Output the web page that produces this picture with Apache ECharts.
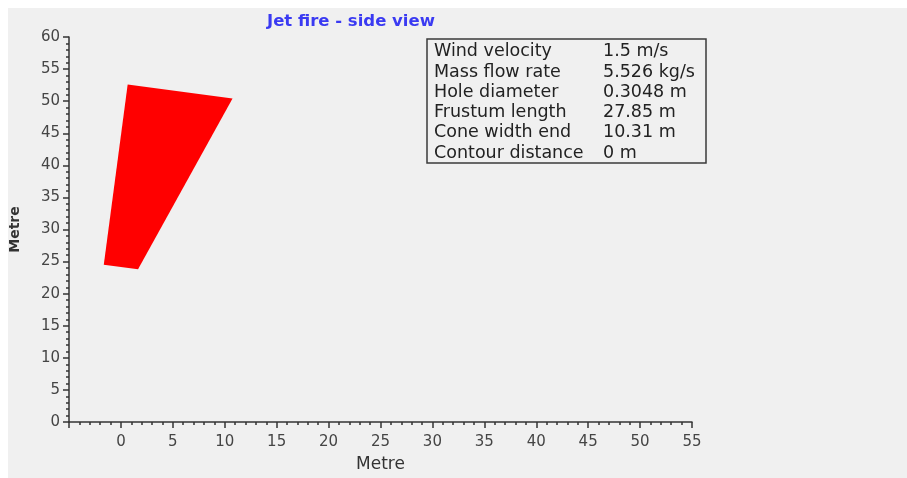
<!DOCTYPE html>
<html>
<head>
<meta charset="utf-8">
<script src="https://cdn.jsdelivr.net/npm/echarts@6/dist/echarts.min.js"></script>
<style>
html,body{margin:0;padding:0;background:#ffffff;}
#chart{width:907px;height:478px;}
</style>
</head>
<body>
<div id="chart"></div>
<script>
// Flame outline (metres): side view polygon vertices
var flameX = [0.65, 10.75, 1.65, -1.65];
var flameY = [52.6, 50.4, 23.8, 24.5];

// Info box
var infoLabels = ['Wind velocity', 'Mass flow rate', 'Hole diameter', 'Frustum length', 'Cone width end', 'Contour distance'];
var infoValues = ['1.5 m/s', '5.526 kg/s', '0.3048 m', '27.85 m', '10.31 m', '0 m'];

// Axes
var xMin = -5, xMax = 55, xStep = 5;
var yMin = 0, yMax = 60, yStep = 5;

var flameData = flameX.map(function (x, i) { return [x, flameY[i]]; });

var chart = echarts.init(document.getElementById('chart'), null, {renderer: 'canvas'});

var FONT = 'DejaVu Sans';
var infoGraphics = [];
infoGraphics.push({
  type: 'rect', shape: {x: 427, y: 39, width: 279, height: 124},
  style: {fill: 'none', stroke: '#3a3a3a', lineWidth: 1.5}, z: 10
});
infoLabels.forEach(function (lab, i) {
  var cy = 51.7 + i * 20.3;
  infoGraphics.push({
    type: 'text', x: 434, y: cy,
    style: {text: lab, fill: '#222', font: '17.5px "' + FONT + '"', textVerticalAlign: 'middle', verticalAlign: 'middle'}, z: 10
  });
  infoGraphics.push({
    type: 'text', x: 603, y: cy,
    style: {text: infoValues[i], fill: '#222', font: '17.5px "' + FONT + '"', textVerticalAlign: 'middle', verticalAlign: 'middle'}, z: 10
  });
});

var option = {
  backgroundColor: '#f0f0f0',
  animation: false,
  title: {
    text: 'Jet fire - side view',
    left: 262, top: 8,
    textStyle: {color: '#3a3af2', fontFamily: FONT, fontSize: 16.5, fontWeight: 'bold'}
  },
  grid: {left: 69, right: 215, top: 37, bottom: 49, containLabel: false},
  xAxis: {
    type: 'value', min: xMin, max: xMax, interval: xStep,
    name: 'Metre', nameLocation: 'middle', nameGap: 34,
    nameTextStyle: {color: '#333', fontFamily: FONT, fontSize: 17},
    axisLine: {show: true, onZero: false, lineStyle: {color: '#333', width: 1.5}},
    axisTick: {show: true, length: 6, lineStyle: {color: '#333', width: 1.5}},
    minorTick: {show: true, splitNumber: 5, length: 3, lineStyle: {color: '#333', width: 1.5}},
    splitLine: {show: false},
    axisLabel: {
      color: '#454545', fontFamily: FONT, fontSize: 15, margin: 13,
      formatter: function (v) { return v === xMin ? '' : String(v); }
    }
  },
  yAxis: {
    type: 'value', min: yMin, max: yMax, interval: yStep,
    name: 'Metre', nameLocation: 'middle', nameGap: 47, nameRotate: 90,
    nameTextStyle: {color: '#333', fontFamily: FONT, fontSize: 14, fontWeight: 'bold'},
    axisLine: {show: true, onZero: false, lineStyle: {color: '#333', width: 1.5}},
    axisTick: {show: true, length: 6, lineStyle: {color: '#333', width: 1.5}},
    minorTick: {show: true, splitNumber: 5, length: 3, lineStyle: {color: '#333', width: 1.5}},
    splitLine: {show: false},
    axisLabel: {color: '#454545', fontFamily: FONT, fontSize: 15, margin: 9}
  },
  graphic: [
    {type: 'rect', shape: {x: 0, y: 0, width: 907, height: 8}, style: {fill: '#ffffff'}, z: 0, silent: true},
    {type: 'rect', shape: {x: 0, y: 0, width: 8, height: 478}, style: {fill: '#ffffff'}, z: 0, silent: true}
  ].concat(infoGraphics),
  series: [{
    type: 'custom',
    data: flameData,
    renderItem: function (params, api) {
      if (params.dataIndexInside !== 0) return null;
      var pts = flameData.map(function (d) { return api.coord(d); });
      return {
        type: 'polygon',
        shape: {points: pts},
        style: {fill: '#ff0000', stroke: null}
      };
    }
  }]
};
chart.setOption(option);
</script>
</body>
</html>
